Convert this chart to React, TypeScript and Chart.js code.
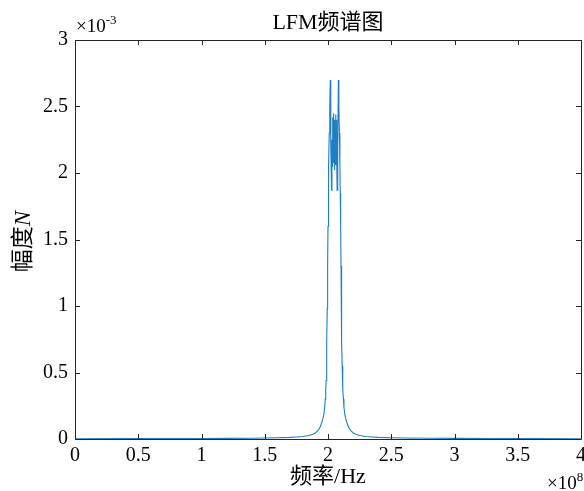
import React, { useEffect, useRef } from "react";
import { Chart, registerables } from "chart.js";

Chart.register(...registerables);

// Frequency axis in units of 1e8 Hz, amplitude in units of 1e-3
const freq: number[] = [
  0, 0.4, 0.8, 1.0, 1.2, 1.4, 1.5, 1.6, 1.7, 1.75, 1.8, 1.85, 1.88, 1.9, 1.92,
  1.935, 1.95, 1.96, 1.968, 1.974, 1.978, 1.982, 1.985, 1.988, 1.991, 1.994,
  1.997, 2.0, 2.003, 2.006, 2.01, 2.014, 2.018,
  2.022, 2.028, 2.031, 2.034, 2.037, 2.04, 2.043, 2.046, 2.049, 2.051, 2.054,
  2.057, 2.06, 2.063, 2.066, 2.069, 2.072, 2.077,
  2.082, 2.086, 2.09, 2.094, 2.097, 2.1, 2.103, 2.106, 2.109, 2.112, 2.115,
  2.118, 2.122, 2.126, 2.132, 2.14, 2.15, 2.165, 2.18, 2.2, 2.22, 2.25, 2.3,
  2.35, 2.4, 2.5, 2.6, 2.8, 3.0, 3.3, 3.6, 4.0,
];
const amplitude: number[] = [
  0.002, 0.003, 0.004, 0.004, 0.005, 0.006, 0.007, 0.009, 0.012, 0.015, 0.019,
  0.026, 0.035, 0.045, 0.062, 0.085, 0.12, 0.155, 0.19, 0.24, 0.3, 0.37, 0.44,
  0.55, 0.72, 0.98, 1.3, 1.6, 1.85, 2.05, 2.3, 2.5, 2.7,
  2.2, 1.87, 2.25, 2.05, 2.42, 2.08, 2.45, 2.1, 2.38, 2.02, 2.4, 2.12, 2.44,
  2.06, 2.4, 2.1, 1.87, 2.2,
  2.7, 2.5, 2.3, 2.05, 1.85, 1.6, 1.3, 0.98, 0.72, 0.55, 0.44, 0.37, 0.3, 0.24,
  0.19, 0.155, 0.12, 0.085, 0.062, 0.045, 0.035, 0.026, 0.019, 0.015, 0.012,
  0.009, 0.007, 0.006, 0.005, 0.004, 0.003, 0.002,
];

const xTicks: number[] = [0, 0.5, 1, 1.5, 2, 2.5, 3, 3.5, 4];
const yTicks: number[] = [0, 0.5, 1, 1.5, 2, 2.5, 3];

const titleText = "LFM频谱图";
const xLabel = "频率/Hz";
const yLabelMain = "幅度";
const yLabelVar = "N";
const xExponent = "8";
const yExponent = "-3";

const SERIF = "'Liberation Serif', 'Times New Roman', serif";
const CJK = "'Liberation Serif', 'Noto Sans CJK SC', serif";
const AXIS_COLOR = "#262626";

const framePlugin = {
  id: "frame",
  afterDraw(chart: any) {
    const { ctx, chartArea } = chart;
    const { left, right, top, bottom } = chartArea;
    const xs = chart.scales.x;
    const ys = chart.scales.y;
    ctx.save();
    ctx.strokeStyle = AXIS_COLOR;
    ctx.lineWidth = 1;
    ctx.beginPath();
    ctx.rect(Math.round(left) + 0.5, Math.round(top) + 0.5, Math.round(right - left), Math.round(bottom - top));
    ctx.stroke();

    const tl = 5;
    ctx.beginPath();
    for (const v of xTicks) {
      const px = Math.round(xs.getPixelForValue(v)) + 0.5;
      ctx.moveTo(px, bottom);
      ctx.lineTo(px, bottom - tl);
      ctx.moveTo(px, top);
      ctx.lineTo(px, top + tl);
    }
    for (const v of yTicks) {
      const py = Math.round(ys.getPixelForValue(v)) + 0.5;
      ctx.moveTo(left, py);
      ctx.lineTo(left + tl, py);
      ctx.moveTo(right, py);
      ctx.lineTo(right - tl, py);
    }
    ctx.stroke();

    ctx.fillStyle = "#000";
    // title
    ctx.font = `22px ${CJK}`;
    ctx.textAlign = "center";
    ctx.textBaseline = "middle";
    ctx.fillText(titleText, (left + right) / 2, 23);

    // x axis title
    ctx.font = `22px ${CJK}`;
    ctx.fillText(xLabel, (left + right) / 2, 477);

    // y axis title (rotated)
    ctx.save();
    ctx.translate(24, (top + bottom) / 2 + 2);
    ctx.rotate(-Math.PI / 2);
    ctx.font = `23px ${CJK}`;
    const w1 = ctx.measureText(yLabelMain).width;
    ctx.font = `italic 23px ${SERIF}`;
    const w2 = ctx.measureText(yLabelVar).width;
    const start = -(w1 + w2) / 2;
    ctx.textAlign = "left";
    ctx.font = `23px ${CJK}`;
    ctx.fillText(yLabelMain, start, 0);
    ctx.font = `italic 23px ${SERIF}`;
    ctx.fillText(yLabelVar, start + w1, 0);
    ctx.restore();

    // exponent labels
    ctx.textAlign = "left";
    ctx.textBaseline = "alphabetic";
    ctx.font = `19px ${SERIF}`;
    const base = "\u00d710";
    const bw = ctx.measureText(base).width;
    ctx.fillText(base, 76, 32);
    ctx.font = `13px ${SERIF}`;
    ctx.fillText(yExponent, 76 + bw, 24);

    ctx.font = `19px ${SERIF}`;
    ctx.fillText(base, 547, 489);
    ctx.font = `13px ${SERIF}`;
    ctx.fillText(xExponent, 547 + bw, 481);
    ctx.restore();
  },
};

export default function App() {
  const canvasRef = useRef<HTMLCanvasElement | null>(null);

  useEffect(() => {
    const canvas = canvasRef.current;
    if (!canvas) return;
    const points = freq.map((f, i) => ({ x: f, y: amplitude[i] }));
    const zeroPad = (s: any) => {
      s.paddingLeft = 0;
      s.paddingRight = 0;
      s.paddingTop = 0;
      s.paddingBottom = 0;
    };
    const chart = new Chart(canvas, {
      type: "line",
      data: {
        datasets: [
          {
            data: points,
            borderColor: "#1f7ec4",
            borderWidth: 1.1,
            pointRadius: 0,
            tension: 0,
            fill: false,
          },
        ],
      },
      plugins: [framePlugin],
      options: {
        animation: false,
        responsive: false,
        devicePixelRatio: 1,
        layout: { padding: { top: 40, right: 3, left: 0, bottom: 0 } },
        plugins: {
          legend: { display: false },
          tooltip: { enabled: false },
          title: { display: false },
        },
        scales: {
          x: {
            type: "linear",
            min: 0,
            max: 4,
            afterBuildTicks: (s: any) => {
              s.ticks = xTicks.map((v) => ({ value: v }));
            },
            afterFit: (s: any) => {
              s.height = 52;
              zeroPad(s);
            },
            grid: { display: false, drawTicks: false },
            border: { display: false },
            ticks: {
              padding: 5,
              maxRotation: 0,
              autoSkip: false,
              color: "#000",
              font: { family: SERIF, size: 20 },
              callback: (v: any) => String(v),
            },
          },
          y: {
            type: "linear",
            min: 0,
            max: 3,
            afterBuildTicks: (s: any) => {
              s.ticks = yTicks.map((v) => ({ value: v }));
            },
            afterFit: (s: any) => {
              s.width = 75;
              zeroPad(s);
            },
            grid: { display: false, drawTicks: false },
            border: { display: false },
            ticks: {
              padding: 7,
              autoSkip: false,
              color: "#000",
              font: { family: SERIF, size: 20 },
              callback: (v: any) => String(v),
            },
          },
        },
      },
    });
    return () => chart.destroy();
  }, []);

  return (
    <div style={{ position: "fixed", left: 0, top: 0, width: 584, height: 491, background: "#fff" }}>
      <canvas ref={canvasRef} width={584} height={491} style={{ display: "block" }} />
    </div>
  );
}
